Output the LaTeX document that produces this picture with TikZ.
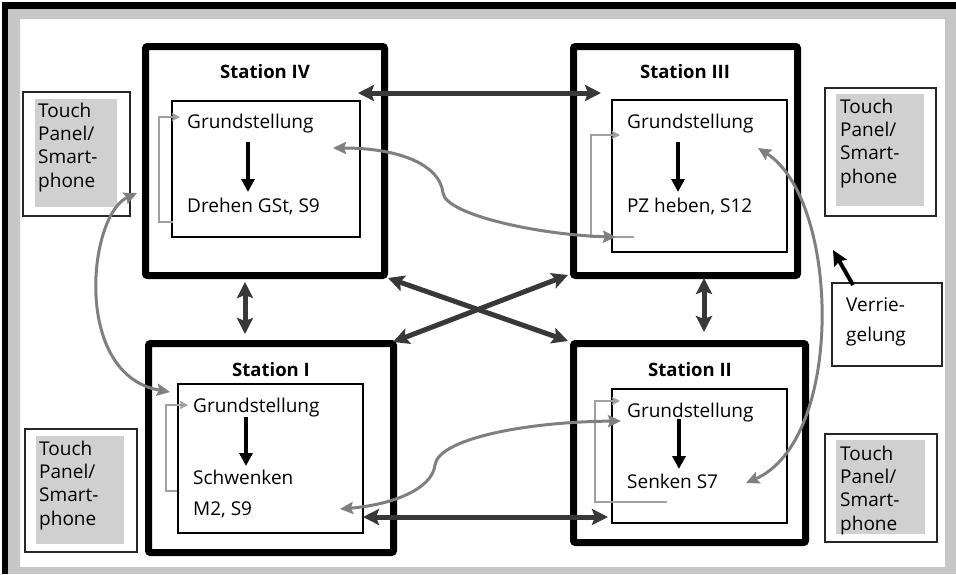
\documentclass[tikz,border=0pt]{standalone}
\usepackage{fontspec}
\setmainfont{Open Sans}
\usetikzlibrary{arrows.meta}

\definecolor{framegray}{HTML}{C6C6C6}
\definecolor{linkdark}{HTML}{383838}
\definecolor{curvegray}{HTML}{7F7F7F}
\definecolor{loopgray}{HTML}{A0A0A0}
\definecolor{panelgray}{HTML}{D0D0D0}

\tikzset{
  stationbox/.style={draw=black, line width=7pt, rounded corners=2pt, inner sep=0pt},
  innerbox/.style={draw=black, line width=1.2pt, inner sep=0pt},
  panelbox/.style={draw=black!85, line width=1.2pt, inner sep=0pt},
  txt/.style={font=\fontsize{19pt}{23.4pt}\selectfont, inner sep=0pt, anchor=base west},
  title/.style={font=\fontsize{18.5pt}{22pt}\selectfont\bfseries, inner sep=0pt, anchor=base},
  link/.style={draw=linkdark, line width=5pt,
    arrows={Stealth[length=16pt,width=16pt,inset=3pt]-Stealth[length=16pt,width=16pt,inset=3pt]}},
  stepflow/.style={draw=black, line width=3.5pt, arrows={-Triangle[length=13pt,width=13pt]}},
  curvelink/.style={draw=curvegray, line width=3pt,
    arrows={Stealth[length=13pt,width=12pt,inset=2pt]-Stealth[length=13pt,width=12pt,inset=2pt]}},
  loopline/.style={draw=loopgray, line width=1.3pt, arrows={-Stealth[length=8pt,width=8pt,inset=1pt]}},
  lockarrow/.style={draw=black, line width=4pt, arrows={-Stealth[length=15pt,width=14pt,inset=2pt]}}
}

\begin{document}
\begin{tikzpicture}[x=1pt,y=-1pt]
\useasboundingbox (0,0) rectangle (956,574);

% outer frame
\fill[black] (2,2) rectangle (956,9);
\fill[black] (2,2) rectangle (8,574);
\fill[framegray, even odd rule] (8,9) rectangle (956,574) (20,19) rectangle (945,567);

% stations
\node[stationbox, minimum width=239pt, minimum height=229pt] (s4) at (265,161) {};
\node[stationbox, minimum width=224pt, minimum height=229pt] (s3) at (685.5,161) {};
\node[stationbox, minimum width=245pt, minimum height=209pt] (s1) at (271,448) {};
\node[stationbox, minimum width=232pt, minimum height=199pt] (s2) at (689.5,443) {};

\node[title] (t4) at (265,78) {Station IV};
\node[title] (t3) at (685,78) {Station III};
\node[title] (t1) at (271,376) {Station I};
\node[title] (t2) at (690,376) {Station II};

% inner state boxes
\node[innerbox, minimum width=188pt, minimum height=136pt] (i4) at (266,169) {};
\node[innerbox, minimum width=175pt, minimum height=152pt] (i3) at (699.5,176) {};
\node[innerbox, minimum width=185pt, minimum height=149pt] (i1) at (270.5,458.5) {};
\node[innerbox, minimum width=175pt, minimum height=134pt] (i2) at (699.5,456) {};

% state texts
\node[txt] (g4) at (187,128) {Grundstellung};
\node[txt] (d4) at (187,212) {Drehen GSt, S9};
\node[txt] (g3) at (627,128) {Grundstellung};
\node[txt] (d3) at (627,212) {PZ heben, S12};
\node[txt] (g1) at (193,412) {Grundstellung};
\node[txt] (d1) at (193,484) {\parbox[t]{150pt}{\baselineskip=31pt Schwenken\\M2, S9}};
\node[txt] (g2) at (627,417) {Grundstellung};
\node[txt] (d2) at (627,488) {Senken S7};

% touch panels
\node[panelbox, minimum width=107pt, minimum height=124pt] (p1) at (76.5,154) {};
\node[panelbox, minimum width=111pt, minimum height=128pt] (p2) at (880.5,152) {};
\node[panelbox, minimum width=112pt, minimum height=123pt] (p3) at (81,490.5) {};
\node[panelbox, minimum width=112pt, minimum height=108pt] (p4) at (881,488) {};
\fill[panelgray] (35,99) rectangle (117,207);
\fill[panelgray] (836,94) rectangle (924,206);
\fill[panelgray] (36,436) rectangle (124,544);
\fill[panelgray] (836,440) rectangle (925,534);
\node[txt] (pt1) at (38,117) {\parbox[t]{80pt}{\raggedright Touch\\Panel/\\Smart-\\phone}};
\node[txt] (pt2) at (840,113) {\parbox[t]{80pt}{\raggedright Touch\\Panel/\\Smart-\\phone}};
\node[txt] (pt3) at (39,455) {\parbox[t]{80pt}{\raggedright Touch\\Panel/\\Smart-\\phone}};
\node[txt] (pt4) at (840,460) {\parbox[t]{80pt}{\raggedright Touch\\Panel/\\Smart-\\phone}};

% interlock
\node[panelbox, minimum width=110pt, minimum height=83pt] (v) at (887,324.5) {};
\node[txt] (vt) at (846,311) {\parbox[t]{90pt}{\raggedright\baselineskip=30pt Verrie-\\gelung}};
\coordinate (vtail) at (853,285);
\coordinate (vtip) at (833,250);
\draw[lockarrow] (vtail) -- (vtip);

% step arrows inside stations
\coordinate (f4a) at (248,142); \coordinate (f4b) at (248,192);
\coordinate (f3a) at (678,142); \coordinate (f3b) at (678,192);
\coordinate (f1a) at (246,417); \coordinate (f1b) at (246,466);
\coordinate (f2a) at (679,419); \coordinate (f2b) at (679,469);
\draw[stepflow] (f4a) -- (f4b);
\draw[stepflow] (f3a) -- (f3b);
\draw[stepflow] (f1a) -- (f1b);
\draw[stepflow] (f2a) -- (f2b);

% return loops
\coordinate (l4a) at (173,222); \coordinate (l4b) at (180,117);
\coordinate (l3a) at (634,237); \coordinate (l3b) at (620,135);
\coordinate (l1a) at (177,491); \coordinate (l1b) at (188,405);
\coordinate (l2a) at (667,502); \coordinate (l2b) at (620,401);
\draw[loopline] (l4a) -- (159,222) -- (159,117) -- (l4b);
\draw[loopline] (l3a) -- (591,237) -- (591,135) -- (l3b);
\draw[loopline] (l1a) -- (166,491) -- (166,405) -- (l1b);
\draw[loopline] (l2a) -- (595,502) -- (595,401) -- (l2b);

% links between stations
\coordinate (h43a) at (358,93);  \coordinate (h43b) at (601,93);
\coordinate (v41a) at (245,282); \coordinate (v41b) at (245,334);
\coordinate (v32a) at (704,278); \coordinate (v32b) at (704,332);
\coordinate (h12a) at (363,517); \coordinate (h12b) at (608,517);
\coordinate (x42a) at (388,278); \coordinate (x42b) at (568,341);
\coordinate (x31a) at (568,275); \coordinate (x31b) at (393,342);
\draw[link] (h43a) -- (h43b);
\draw[link] (v41a) -- (v41b);
\draw[link] (v32a) -- (v32b);
\draw[link] (h12a) -- (h12b);
\draw[link] (x42a) -- (x42b);
\draw[link] (x31a) -- (x31b);

% panel / cross links
\coordinate (c1a) at (137,193); \coordinate (c1b) at (170,392);
\coordinate (c2a) at (333,148); \coordinate (c2b) at (616,237);
\coordinate (c3a) at (340,509); \coordinate (c3b) at (621,421);
\coordinate (c4a) at (758,148); \coordinate (c4b) at (746,483);
\draw[curvelink] (c1a) .. controls (88,215) and (72,375) .. (c1b);
\draw[curvelink] (c2a) .. controls (400,148) and (440,165) .. (443,193)
                       .. controls (446,215) and (540,235) .. (c2b);
\draw[curvelink] (c3a) .. controls (390,505) and (432,490) .. (435,465)
                       .. controls (438,440) and (520,422) .. (c3b);
\draw[curvelink] (c4a) .. controls (840,200) and (845,440) .. (c4b);
\end{tikzpicture}
\end{document}
